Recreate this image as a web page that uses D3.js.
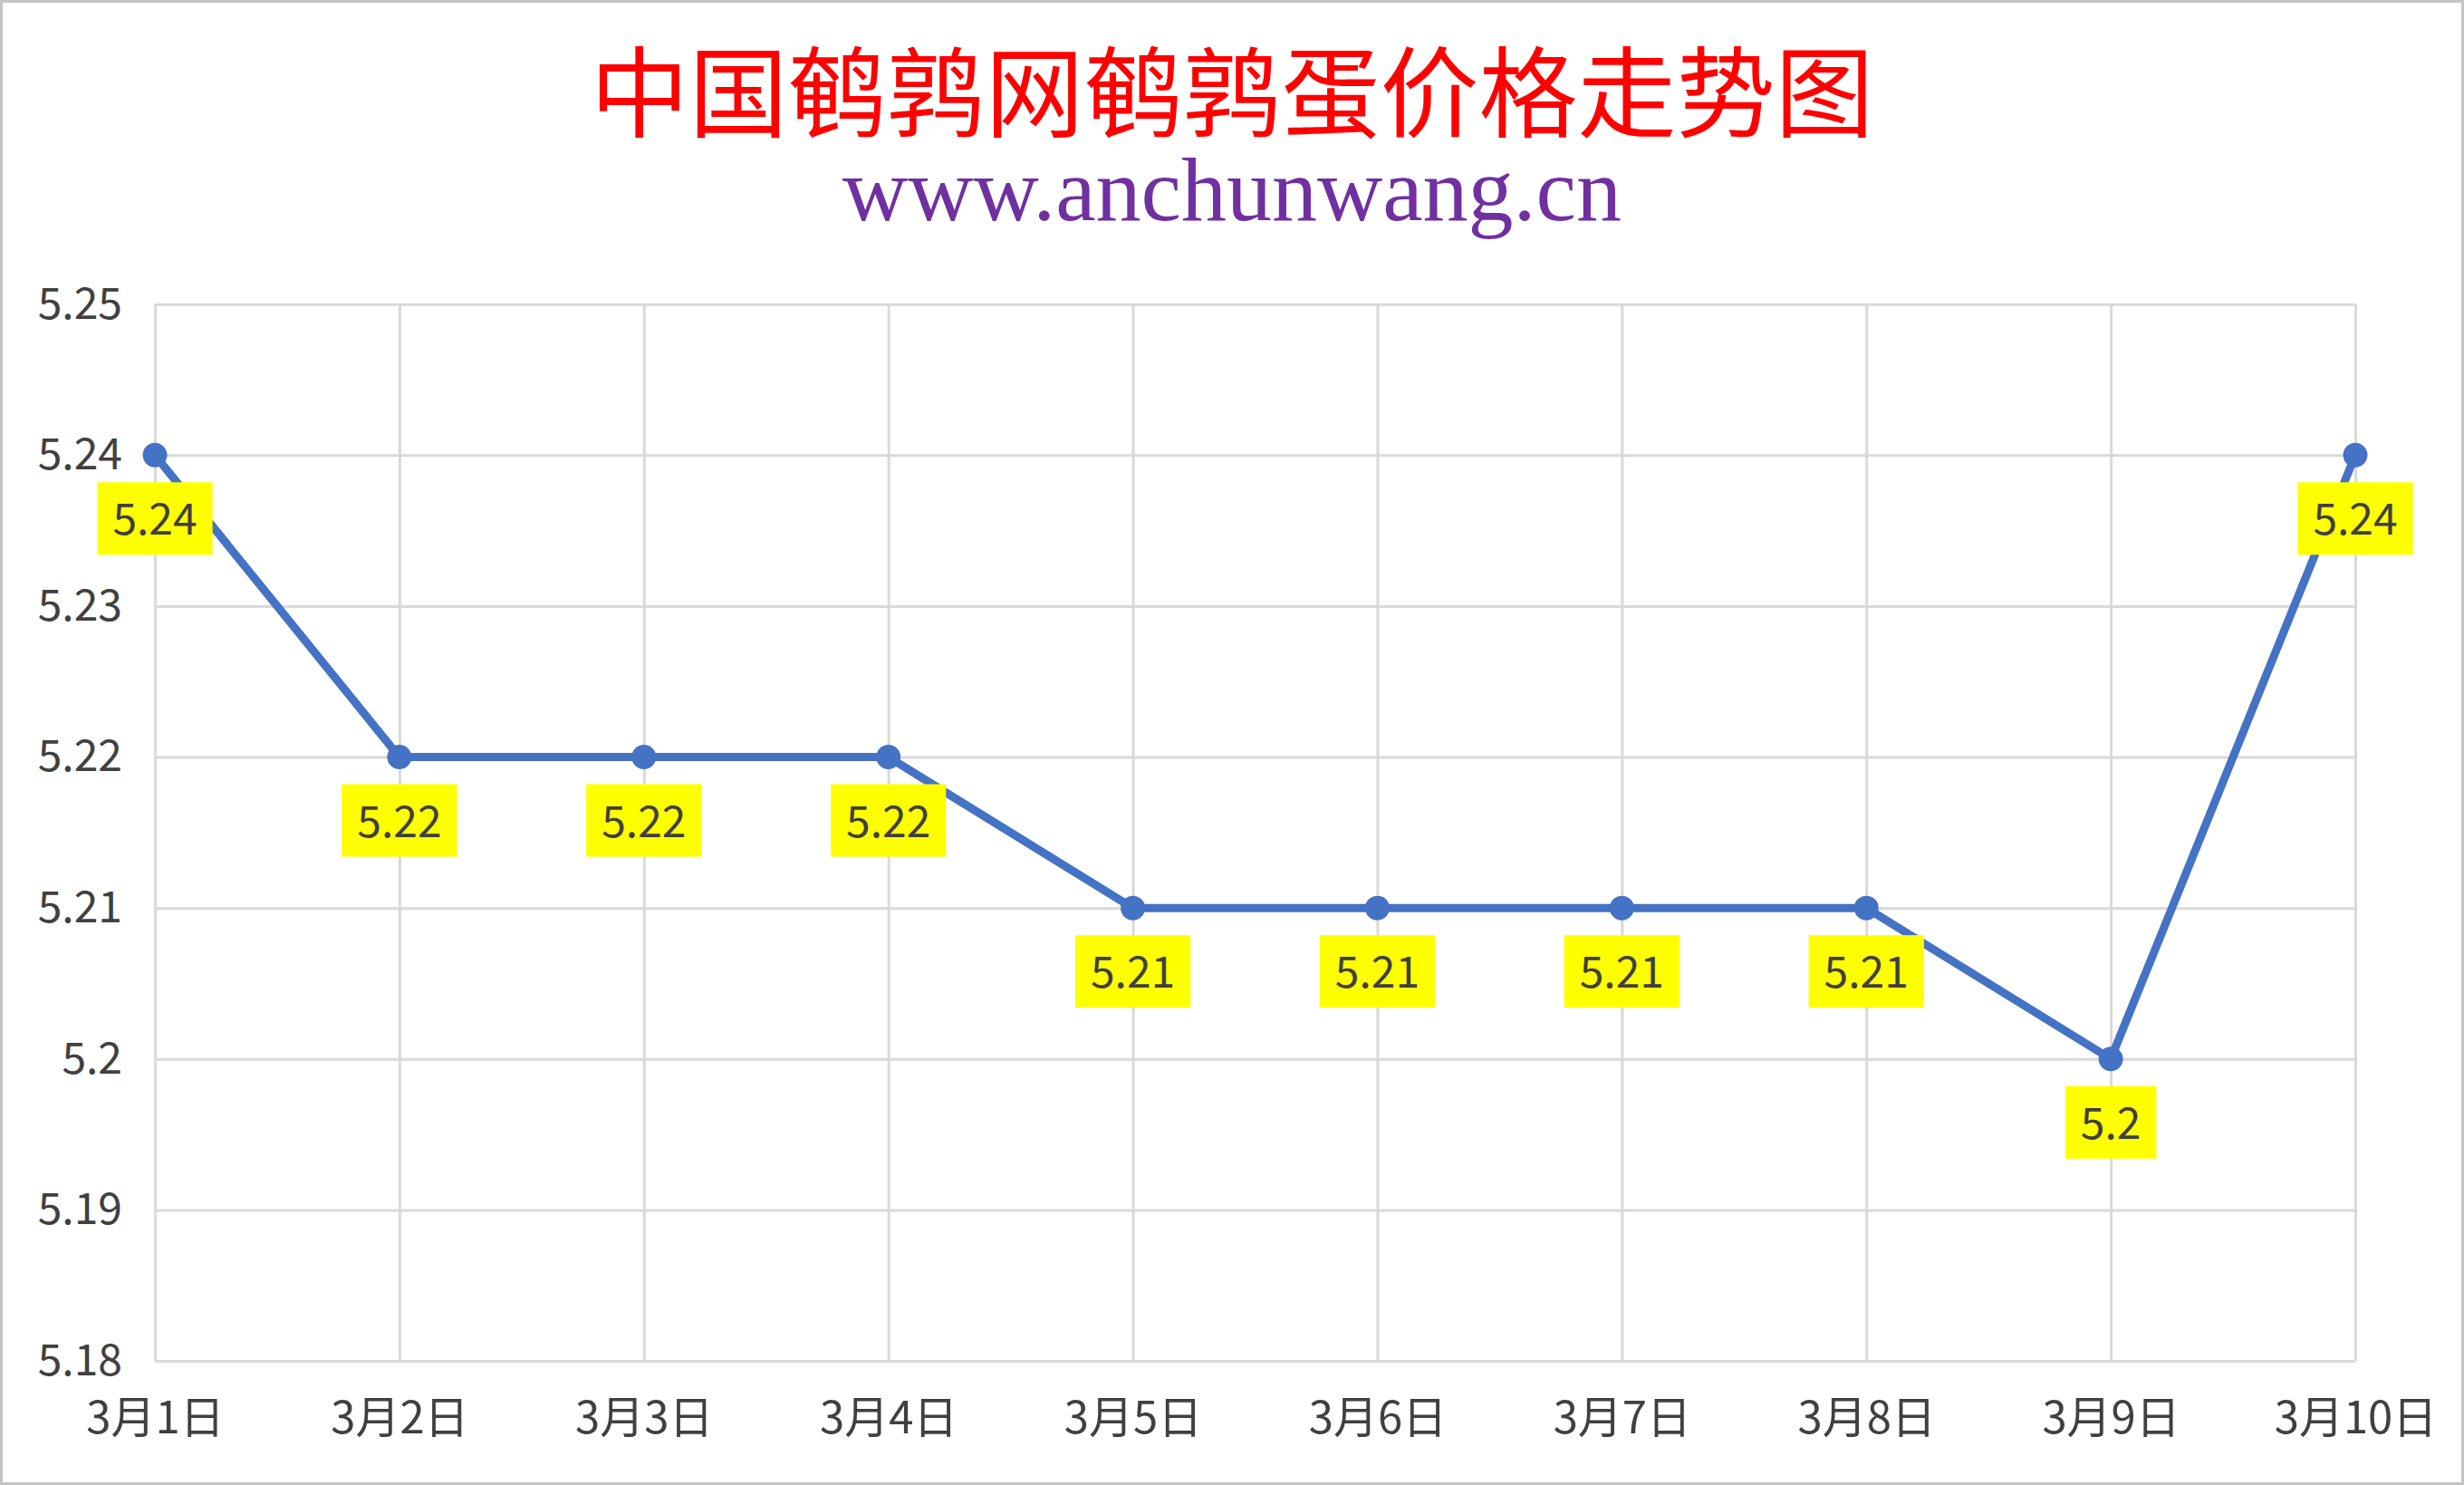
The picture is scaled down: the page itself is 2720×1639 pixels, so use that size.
<!DOCTYPE html>
<html>
<head>
    <meta charset="utf-8">
    <title></title>
    <script src="https://d3js.org/d3.v7.min.js"></script>
    <style>
        body { margin: 0; background: #fff; }
        svg { display: block; }
    </style>
</head>
<body>
    <svg width="2720" height="1639" id="svg1"></svg>
</body>
<script>
// data
var dates = ['3月1日', '3月2日', '3月3日', '3月4日', '3月5日', '3月6日', '3月7日', '3月8日', '3月9日', '3月10日'];
var prices = [5.24, 5.22, 5.22, 5.22, 5.21, 5.21, 5.21, 5.21, 5.2, 5.24];
var yTicks = [5.18, 5.19, 5.2, 5.21, 5.22, 5.23, 5.24, 5.25];

var titleText = '中国鹌鹑网鹌鹑蛋价格走势图';
var subText = 'www.anchunwang.cn';

var svg1 = d3.select('#svg1'),
    W = +svg1.attr('width'),
    H = +svg1.attr('height'),
    pLeft = 171, pRight = 2600, pTop = 335.7, pBottom = 1502,
    textColor = '#404040',
    gridColor = '#D9D9D9',
    lineColor = '#4472C4',
    font = "'Noto Sans CJK SC', 'Noto Sans', sans-serif";

var data = dates.map(function(d, i){ return {date: d, value: prices[i]}; });

// frame
svg1.append('rect')
    .attr('x', 1.5).attr('y', 1.5)
    .attr('width', W - 3).attr('height', H - 3)
    .attr('fill', '#fff')
    .attr('stroke', '#C4C4C4')
    .attr('stroke-width', 3);

// titles
svg1.append('text')
    .attr('x', W / 2)
    .attr('y', 143)
    .attr('text-anchor', 'middle')
    .attr('font-family', font)
    .attr('font-size', 109)
    .attr('fill', '#FF0000')
    .text(titleText);

svg1.append('text')
    .attr('x', 1360)
    .attr('y', 243)
    .attr('text-anchor', 'middle')
    .attr('font-family', "'Liberation Serif', 'DejaVu Serif', serif")
    .attr('font-size', 100)
    .attr('fill', '#7030A0')
    .text(subText);

var xScale = d3.scalePoint().domain(dates).range([pLeft, pRight]);
var yScale = d3.scaleLinear().domain([5.18, 5.25]).range([pBottom, pTop]);

// y axis + horizontal grid
var gy = svg1.append('g')
    .attr('transform', 'translate(' + pLeft + ',0)')
    .call(d3.axisLeft(yScale)
        .tickValues(yTicks)
        .tickSize(-(pRight - pLeft))
        .tickPadding(36)
        .tickFormat(function(d){ return String(d); }));
gy.select('.domain').remove();
gy.selectAll('line').attr('stroke', gridColor).attr('stroke-width', 3);
gy.selectAll('text')
    .attr('font-family', font)
    .attr('font-size', 48)
    .attr('fill', textColor);

// x axis + vertical grid
var gx = svg1.append('g')
    .attr('transform', 'translate(0,' + pBottom + ')')
    .call(d3.axisBottom(xScale)
        .tickSize(-(pBottom - pTop))
        .tickPadding(45));
gx.select('.domain').remove();
gx.selectAll('line').attr('stroke', gridColor).attr('stroke-width', 3);
gx.selectAll('text')
    .attr('font-family', font)
    .attr('font-size', 49)
    .attr('fill', textColor);

// price line
var line = d3.line()
    .x(function(d){ return xScale(d.date); })
    .y(function(d){ return yScale(d.value); });

svg1.append('path')
    .datum(data)
    .attr('fill', 'none')
    .attr('stroke', lineColor)
    .attr('stroke-width', 9)
    .attr('stroke-linejoin', 'round')
    .attr('d', line);

svg1.selectAll('.dot')
    .data(data)
    .enter()
    .append('circle')
    .attr('class', 'dot')
    .attr('cx', function(d){ return xScale(d.date); })
    .attr('cy', function(d){ return yScale(d.value); })
    .attr('r', 13.5)
    .attr('fill', lineColor);

// data labels in yellow boxes under each point
var lab = svg1.selectAll('.lab')
    .data(data)
    .enter()
    .append('g')
    .attr('class', 'lab')
    .attr('transform', function(d){ return 'translate(' + xScale(d.date) + ',' + (yScale(d.value) + 30) + ')'; });

lab.append('rect').attr('fill', '#FFFF00');

lab.append('text')
    .attr('x', 0)
    .attr('y', 58)
    .attr('text-anchor', 'middle')
    .attr('font-family', font)
    .attr('font-size', 48)
    .attr('fill', textColor)
    .text(function(d){ return String(d.value); });

lab.each(function(){
    var g = d3.select(this);
    var w = g.select('text').node().getBBox().width + 34;
    g.select('rect')
        .attr('x', -w / 2)
        .attr('y', 0)
        .attr('width', w)
        .attr('height', 80);
});
</script>
</html>
